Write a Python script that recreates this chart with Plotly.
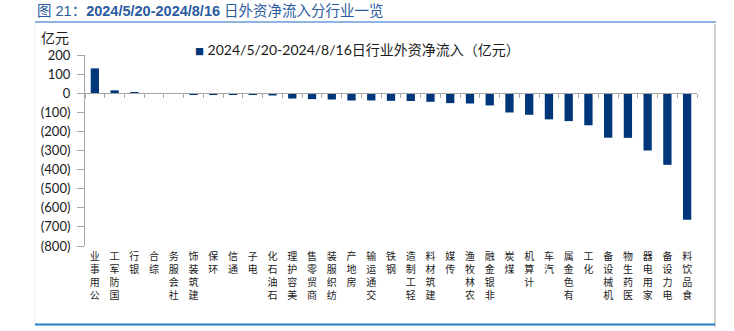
import plotly.graph_objects as go

# 行业外资净流入（亿元），2024/5/20-2024/8/16
industries = [
    "公用事业", "国防军工", "银行", "综合", "社会服务", "建筑装饰", "环保", "通信",
    "电子", "石油石化", "美容护理", "商贸零售", "纺织服装", "房地产", "交通运输", "钢铁",
    "轻工制造", "建筑材料", "传媒", "农林牧渔", "非银金融", "煤炭", "计算机", "汽车",
    "有色金属", "化工", "机械设备", "医药生物", "家用电器", "电力设备", "食品饮料",
]
net_inflow = [
    130, 15, 3, -1, -4, -5, -6, -7,
    -9, -12, -28, -31, -33, -38, -38, -40,
    -41, -45, -52, -54, -64, -101, -113, -137,
    -146, -168, -233, -234, -300, -375, -663,
]
y_ticks = [200, 100, 0, -100, -200, -300, -400, -500, -600, -700, -800]

series_name = "2024/5/20-2024/8/16日行业外资净流入（亿元）"
title_text = "图 21：<b>2024/5/20-2024/8/16</b> 日外资净流入分行业一览"

BAR_COLOR = "#00377A"
AXIS_COLOR = "#A6A6A6"
TEXT_COLOR = "#1A1A1A"
CJK = "Noto Sans CJK SC"
LATIN = "Lato, Noto Sans CJK SC"
# Latin primary font keeps the line boxes compact; CJK glyphs fall back to Noto
STACK = "Liberation Sans, Noto Sans CJK SC"

# plot area in pixels (used to place the decorations in paper units)
W, H = 734, 331
L, R, T, B = 85, 37, 55, 85
PW, PH = W - L - R, H - T - B


def px_x(x):
    return (x - L) / PW


def px_y(y):
    return (H - B - y) / PH


def stacked(name):
    # upright characters, read bottom-to-top, top-aligned under the axis
    return "<br>".join(reversed(list(name)))


def paren(v):
    return f"({abs(v)})" if v < 0 else str(v)


fig = go.Figure()
fig.add_trace(go.Bar(
    x=industries, y=net_inflow, name=series_name,
    marker=dict(color=BAR_COLOR, line=dict(width=0)),
    showlegend=False, xaxis="x", yaxis="y",
))
# carrier for the zero-line category axis (tick marks between categories)
fig.add_trace(go.Scatter(
    x=industries, y=[0] * len(industries), mode="markers",
    marker=dict(opacity=0), hoverinfo="skip", showlegend=False,
    xaxis="x2", yaxis="y",
))

fig.update_layout(
    width=W, height=H,
    margin=dict(l=L, r=R, t=T, b=B, pad=0),
    paper_bgcolor="white", plot_bgcolor="white",
    bargap=0.58,
    xaxis=dict(
        type="category", range=[-0.5, len(industries) - 0.5],
        categoryorder="array", categoryarray=industries,
        tickvals=industries, ticktext=[stacked(n) for n in industries],
        tickangle=0, ticks="", showline=False, showgrid=False, zeroline=False,
        tickfont=dict(family=STACK, size=10, color=TEXT_COLOR),
        ticklabelstandoff=3,
    ),
    xaxis2=dict(
        type="category", range=[-0.5, len(industries) - 0.5],
        categoryorder="array", categoryarray=industries,
        overlaying="x", anchor="free", position=0.8,
        showline=True, linecolor=AXIS_COLOR, linewidth=1,
        ticks="outside", tickson="boundaries", ticklen=4, tickcolor=AXIS_COLOR,
        showticklabels=False, showgrid=False, zeroline=False,
    ),
    yaxis=dict(
        range=[-800, 200], tickvals=y_ticks, ticktext=[paren(v) for v in y_ticks],
        showline=True, linecolor=AXIS_COLOR, linewidth=1,
        ticks="outside", ticklen=7, tickcolor=AXIS_COLOR,
        showgrid=False, zeroline=False,
        tickfont=dict(family=LATIN, size=13, color=TEXT_COLOR),
        ticklabelstandoff=4,
    ),
    showlegend=False,
)

fig.add_annotation(
    text=title_text, xref="paper", yref="paper",
    x=px_x(35), y=px_y(11), xanchor="left", yanchor="middle",
    showarrow=False, font=dict(family="Liberation Sans, Noto Sans CJK SC", size=14.5, color="#2B5B9E"),
)
fig.add_annotation(
    text="亿元", xref="paper", yref="paper",
    x=px_x(55), y=px_y(37), xanchor="center", yanchor="middle",
    showarrow=False, font=dict(family=CJK, size=14, color=TEXT_COLOR),
)
fig.add_annotation(
    text=f"<span style='font-size:9px;color:{BAR_COLOR}'>■</span> {series_name}",
    xref="paper", yref="paper",
    x=px_x(193), y=px_y(49), xanchor="left", yanchor="middle",
    showarrow=False, font=dict(family=LATIN, size=14, color=TEXT_COLOR),
)

# title underline, frame edges and bottom rule
fig.add_shape(type="line", xref="paper", yref="paper",
              x0=px_x(35), x1=px_x(716), y0=px_y(22), y1=px_y(22),
              line=dict(color="#8DB4E2", width=2))
fig.add_shape(type="line", xref="paper", yref="paper",
              x0=px_x(715), x1=px_x(715), y0=px_y(24), y1=px_y(327),
              line=dict(color="#BFBFBF", width=1.5))
fig.add_shape(type="line", xref="paper", yref="paper",
              x0=px_x(35), x1=px_x(35), y0=px_y(24), y1=px_y(324),
              line=dict(color="#F0F0F0", width=1))
fig.add_shape(type="line", xref="paper", yref="paper",
              x0=px_x(35), x1=px_x(715), y0=px_y(324.5), y1=px_y(324.5),
              line=dict(color="#1F7BC8", width=2))

fig.write_html("out.html")
